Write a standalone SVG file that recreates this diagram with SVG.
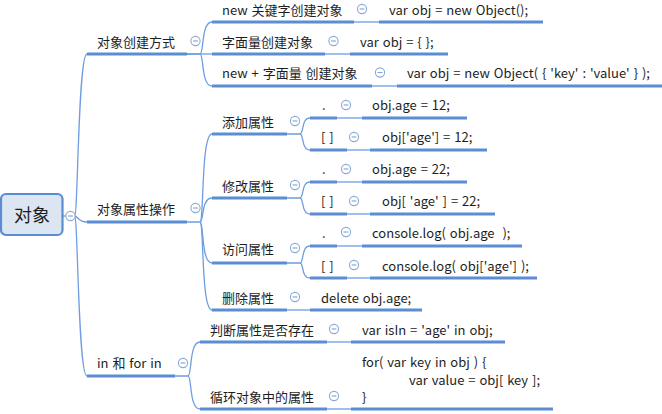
<svg xmlns="http://www.w3.org/2000/svg" width="662" height="414" viewBox="0 0 662 414">
<defs>
<style>
.t{font-family:"Noto Sans CJK SC","Noto Sans",sans-serif;font-size:13px;fill:#1e1e1e;word-spacing:1px}
.u{stroke:#5b8dd3;stroke-width:3;fill:none}
.c{stroke:#6e9de0;stroke-width:1.3;fill:none}
.tg circle{fill:#fff;stroke:#8aaad8;stroke-width:1.1}
.tg line{stroke:#7d9fd2;stroke-width:1.1}
</style>
<g id="toggle" class="tg"><circle cx="0" cy="0" r="4.6"/><line x1="-2.4" y1="0" x2="2.4" y2="0"/></g>
</defs>
<rect width="662" height="414" fill="#fff"/>

<g id="connectors">
<path class="c" d="M63,216 H66"/>
<path class="c" d="M74.6,216 C78,216 78,54 87,54"/>
<path class="c" d="M74.6,216 C78,216 78,222 87,222"/>
<path class="c" d="M74.6,216 C78,216 78,376 87,376"/>
<path class="c" d="M187,54 H200 C204,54 201,22 212,22"/>
<path class="c" d="M187,54 H212"/>
<path class="c" d="M200,54 C204,54 201,86 212,86"/>
<path class="c" d="M187,222 H200 C204,222 201,134 212,134"/>
<path class="c" d="M200,222 C204,222 201,198 212,198"/>
<path class="c" d="M200,222 C204,222 201,263 212,263"/>
<path class="c" d="M200,222 C204,222 201,310 212,310"/>
<path class="c" d="M175,376 H188 C192,376 189,342 200,342"/>
<path class="c" d="M188,376 C192,376 189,409 200,409"/>
<path class="c" d="M287,134 H300 C304,134 301,118 310,118"/>
<path class="c" d="M300,134 C304,134 301,150 310,150"/>
<path class="c" d="M287,198 H300 C304,198 301,182 310,182"/>
<path class="c" d="M300,198 C304,198 301,214 310,214"/>
<path class="c" d="M287,263 H300 C304,263 301,246 310,246"/>
<path class="c" d="M300,263 C304,263 301,278 310,278"/>
<path class="c" d="M287,310 H310"/>
<path class="c" d="M354,22 H379"/>
<path class="c" d="M325,54 H350"/>
<path class="c" d="M372,86 H397"/>
<path class="c" d="M337,118 H362"/>
<path class="c" d="M347,150 H370"/>
<path class="c" d="M337,182 H362"/>
<path class="c" d="M347,214 H370"/>
<path class="c" d="M337,246 H362"/>
<path class="c" d="M347,278 H370"/>
<path class="c" d="M327,342 H351"/>
<path class="c" d="M327,409 H351"/>
</g>

<g id="root">
<rect x="1" y="194" width="61.5" height="41" rx="5" fill="#dce6f2" stroke="#5b8dd3" stroke-width="2.2"/>
<text class="t" x="32" y="222" text-anchor="middle" style="font-size:18px">对象</text>
<use href="#toggle" x="70.5" y="216"/>
</g>

<g id="n-create">
<path class="u" d="M87,54 H187"/>
<text class="t" x="97" y="47">对象创建方式</text>
<use href="#toggle" x="195.5" y="41"/>
</g>
<g id="n-props">
<path class="u" d="M87,222 H187"/>
<text class="t" x="97" y="214">对象属性操作</text>
<use href="#toggle" x="195.5" y="208"/>
</g>
<g id="n-in">
<path class="u" d="M87,376 H175"/>
<text class="t" x="97" y="368">in 和 for in</text>
<use href="#toggle" x="183" y="363"/>
</g>

<g id="n-new">
<path class="u" d="M212,22 H354"/>
<text class="t" x="222" y="14.5">new 关键字创建对象</text>
<use href="#toggle" x="362" y="9"/>
</g>
<g id="l-new">
<path class="u" d="M379,22 H543"/>
<text class="t" x="389" y="14.5">var obj = new Object();</text>
</g>
<g id="n-literal">
<path class="u" d="M212,54 H325"/>
<text class="t" x="222" y="46.5">字面量创建对象</text>
<use href="#toggle" x="333.5" y="41"/>
</g>
<g id="l-literal">
<path class="u" d="M350,54 H448"/>
<text class="t" x="360" y="46.5">var obj = { };</text>
</g>
<g id="n-newlit">
<path class="u" d="M212,86 H372"/>
<text class="t" x="222" y="77.5">new + 字面量 创建对象</text>
<use href="#toggle" x="380" y="72.5"/>
</g>
<g id="l-newlit">
<path class="u" d="M397,86 H662"/>
<text class="t" x="407" y="77.5">var obj = new Object( { 'key' : 'value' } );</text>
</g>

<g id="n-add">
<path class="u" d="M212,134 H287"/>
<text class="t" x="222" y="126.5">添加属性</text>
<use href="#toggle" x="295" y="121"/>
</g>
<g id="n-add-dot">
<path class="u" d="M310,118 H337"/>
<text class="t" x="322" y="109.5">.</text>
<use href="#toggle" x="346" y="105"/>
</g>
<g id="l-add-dot">
<path class="u" d="M362,118 H467"/>
<text class="t" x="372" y="109.5">obj.age = 12;</text>
</g>
<g id="n-add-br">
<path class="u" d="M310,150 H347"/>
<text class="t" x="321" y="142">[ ]</text>
<use href="#toggle" x="354" y="137"/>
</g>
<g id="l-add-br">
<path class="u" d="M370,150 H487"/>
<text class="t" x="382" y="142">obj['age'] = 12;</text>
</g>

<g id="n-mod">
<path class="u" d="M212,198 H287"/>
<text class="t" x="222" y="190.5">修改属性</text>
<use href="#toggle" x="295" y="185"/>
</g>
<g id="n-mod-dot">
<path class="u" d="M310,182 H337"/>
<text class="t" x="322" y="174">.</text>
<use href="#toggle" x="346" y="169"/>
</g>
<g id="l-mod-dot">
<path class="u" d="M362,182 H467"/>
<text class="t" x="372" y="174">obj.age = 22;</text>
</g>
<g id="n-mod-br">
<path class="u" d="M310,214 H347"/>
<text class="t" x="321" y="206">[ ]</text>
<use href="#toggle" x="354" y="201"/>
</g>
<g id="l-mod-br">
<path class="u" d="M370,214 H495"/>
<text class="t" x="382" y="206">obj[ 'age' ] = 22;</text>
</g>

<g id="n-get">
<path class="u" d="M212,263 H287"/>
<text class="t" x="222" y="253.5">访问属性</text>
<use href="#toggle" x="295" y="248"/>
</g>
<g id="n-get-dot">
<path class="u" d="M310,246 H337"/>
<text class="t" x="322" y="237.5">.</text>
<use href="#toggle" x="346" y="232"/>
</g>
<g id="l-get-dot">
<path class="u" d="M362,246 H522"/>
<text class="t" x="372" y="237.5" xml:space="preserve">console.log( obj.age  );</text>
</g>
<g id="n-get-br">
<path class="u" d="M310,278 H347"/>
<text class="t" x="321" y="271">[ ]</text>
<use href="#toggle" x="354" y="265"/>
</g>
<g id="l-get-br">
<path class="u" d="M370,278 H537"/>
<text class="t" x="382" y="271">console.log( obj['age'] );</text>
</g>

<g id="n-del">
<path class="u" d="M212,310 H287"/>
<text class="t" x="222" y="302.5">删除属性</text>
<use href="#toggle" x="295" y="297"/>
</g>
<g id="l-del">
<path class="u" d="M310,310 H422"/>
<text class="t" x="321" y="302.5">delete obj.age;</text>
</g>

<g id="n-isin">
<path class="u" d="M200,342 H327"/>
<text class="t" x="210" y="334.5">判断属性是否存在</text>
<use href="#toggle" x="334" y="329"/>
</g>
<g id="l-isin">
<path class="u" d="M351,342 H505"/>
<text class="t" x="362" y="334.5">var isIn = 'age' in obj;</text>
</g>
<g id="n-forin">
<path class="u" d="M200,409 H327"/>
<text class="t" x="210" y="401.5">循环对象中的属性</text>
<use href="#toggle" x="334" y="396"/>
</g>
<g id="l-forin">
<path class="u" d="M351,409 H553"/>
<text class="t" x="362" y="366.5">for( var key in obj ) {</text>
<text class="t" x="409" y="384.5">var value = obj[ key ];</text>
<text class="t" x="362" y="401.5">}</text>
</g>
</svg>
